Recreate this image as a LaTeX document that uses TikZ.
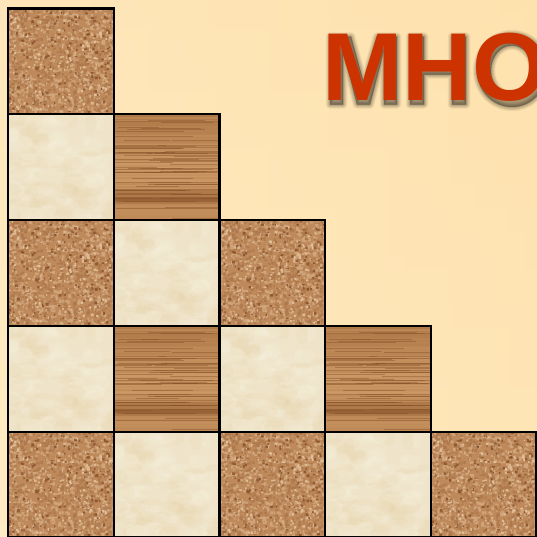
\documentclass[tikz,border=0pt]{standalone}
\usepackage{fontspec}
\setmainfont{Liberation Sans}
\definecolor{bgA}{HTML}{FFEBC4}
\definecolor{bgB}{HTML}{FEE2AE}
\definecolor{corkB}{HTML}{BE8A5C}
\definecolor{corkL}{HTML}{D9B189}
\definecolor{corkM}{HTML}{A87246}
\definecolor{corkD}{HTML}{7E4722}
\definecolor{corkH}{HTML}{EBCDA8}
\definecolor{marB}{HTML}{EFE4C9}
\definecolor{marL}{HTML}{F8F2E0}
\definecolor{marD}{HTML}{E6D1A4}
\definecolor{woodL}{HTML}{CC9A66}
\definecolor{woodM}{HTML}{B57E4C}
\definecolor{woodD}{HTML}{7E4A22}
\definecolor{mho}{HTML}{CC3300}
\newcommand{\speck}[4]{\fill[#1,opacity=#4] foreach \k in {1,...,#2} {(rnd*104,rnd*104) rectangle ++(#3*0.6+rnd*#3,#3*0.6+rnd*#3)};}
\newcommand{\corkcell}[2]{\begin{scope}[shift={(#1,#2)}]
  \pgfmathsetseed{4711}
  \clip (0,0) rectangle (105.7,105.8);
  \fill[corkB] (0,0) rectangle (105.7,105.8);
  \speck{corkL}{620}{2.1}{0.7}
  \speck{corkM}{620}{2.1}{0.7}
  \speck{corkH}{150}{1.7}{0.75}
  \speck{corkD}{150}{1.8}{0.7}
\end{scope}}
\newcommand{\marblecell}[2]{\begin{scope}[shift={(#1,#2)}]
  \pgfmathsetseed{815}
  \clip (0,0) rectangle (105.7,105.8);
  \fill[marB] (0,0) rectangle (105.7,105.8);
  \foreach \k in {1,...,60}{
    \fill[marD,opacity=.16] (rnd*105,rnd*105) ellipse ({4+rnd*9} and {3+rnd*6});
    \fill[marL,opacity=.2] (rnd*105,rnd*105) ellipse ({4+rnd*9} and {3+rnd*6});
  }
\end{scope}}
\newcommand{\woodcell}[2]{\begin{scope}[shift={(#1,#2)}]
  \pgfmathsetseed{2024}
  \clip (0,0) rectangle (105.7,105.8);
  \fill[top color=woodM!85!woodD,bottom color=woodM!60!woodL,middle color=woodL] (0,0) rectangle (105.7,105.8);
  \foreach \k in {0,3,...,105}{
    \pgfmathsetmacro\mixv{rnd*100}
    \fill[woodL!\mixv!woodM,opacity=.5] (0,\k) rectangle (106,\k+2);
  }
  \fill[woodM!75!woodD,opacity=.7] (0,76) rectangle (106,90);
  \fill[woodD,opacity=.45] (0,83) rectangle (106,87);
  \foreach \k in {1,...,60}{
    \pgfmathsetmacro\ya{2+rnd*102}
    \pgfmathsetmacro\xa{rnd*90-30}
    \pgfmathsetmacro\la{40+rnd*90}
    \fill[woodD,opacity=.4] (\xa,\ya) rectangle (\xa+\la,\ya+0.8);
  }
\end{scope}}
\begin{document}
\begin{tikzpicture}[x=1pt,y=-1pt,cellline/.style={draw=black,line width=2.3pt,line join=miter}]
\useasboundingbox (0,0) rectangle (537,536);
\clip (0,0) rectangle (537,536);
\shade[left color=bgA,right color=bgB,middle color=bgA!50!bgB,shading angle=90] (0,0) rectangle (537,536);
\shade[top color=bgB,bottom color=bgA,opacity=.45] (0,0) rectangle (537,536);
% soft shadow of the title
\foreach \w/\o in {9/.025,8/.03,7/.03,6/.035,5/.04,4/.04,3/.045,2/.05,1/.05,0.2/.05}{
  \begin{scope}[shift={(4,4.5)}]
  \filldraw[black,opacity=\o,line width=\w pt,line join=round,even odd rule]
    (326,100) -- (326,32) -- (347,32) -- (360,79) -- (373,32) -- (393,32) -- (393,100) -- (380,100) -- (380,46) -- (366,100) -- (353,100) -- (339,46) -- (339,100) -- cycle
    (406,32) -- (420,32) -- (420,59) -- (448,59) -- (448,32) -- (462,32) -- (462,100) -- (448,100) -- (448,70) -- (420,70) -- (420,100) -- (406,100) -- cycle
    (508,66) ellipse (35 and 36.5) (508,66) ellipse (21 and 25);
  \end{scope}
}
\node[anchor=base west,inner sep=0pt,font=\bfseries\fontsize{96.5}{96.5}\selectfont,text=mho] (mho) at (322,100) {MHO};
% row 0
\corkcell{8}{8.5}
% row 1
\marblecell{8}{114.3}\woodcell{113.7}{114.3}
% row 2
\corkcell{8}{220.1}\marblecell{113.7}{220.1}\corkcell{219.4}{220.1}
% row 3
\marblecell{8}{325.9}\woodcell{113.7}{325.9}\marblecell{219.4}{325.9}\woodcell{325.1}{325.9}
% row 4
\corkcell{8}{431.7}\marblecell{113.7}{431.7}\corkcell{219.4}{431.7}\marblecell{325.1}{431.7}\corkcell{430.8}{431.7}
% borders
\foreach \r/\n in {8.5/1,114.3/2,220.1/3,325.9/4,431.7/5}{
  \foreach \c in {1,...,\n}{
    \pgfmathsetmacro\xc{8+105.7*(\c-1)}
    \draw[cellline] (\xc,\r) rectangle ++(105.7,105.8);
  }
}
\end{tikzpicture}
\end{document}
